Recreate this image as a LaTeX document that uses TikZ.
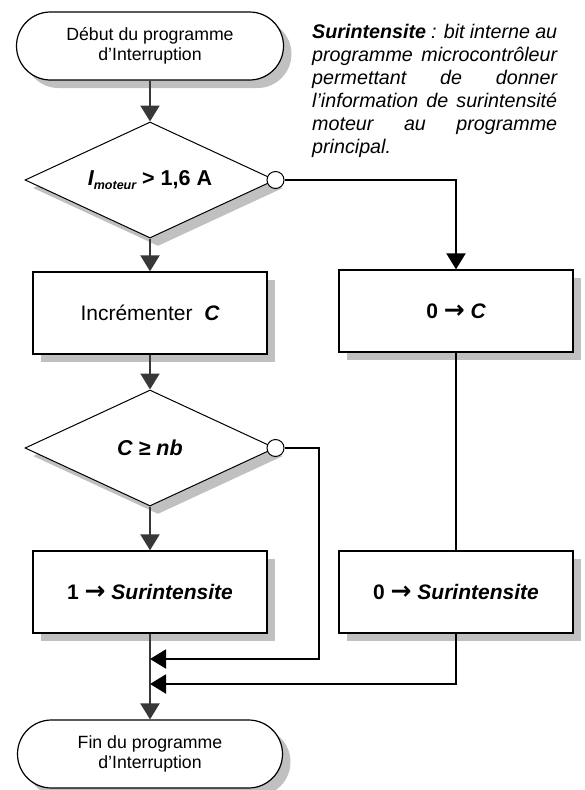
\documentclass[tikz,border=0pt]{standalone}
\usepackage{fontspec}
\setmainfont{Liberation Sans}
\newfontfamily\arrowfont{DejaVu Sans}
\usetikzlibrary{arrows.meta,shapes.geometric,shadows}
\definecolor{shgrey}{HTML}{C0C0C0}
\definecolor{flowgrey}{HTML}{383838}
\newcommand{\toarrow}{{\arrowfont\bfseries\fontsize{25}{24}\selectfont →}}
\tikzset{
  shad/.style={general shadow={shadow xshift=8pt,shadow yshift=-8pt,fill=shgrey}},
  term/.style={shad, draw=black, line width=1.2pt, fill=white, rectangle, rounded corners=34pt,
    minimum width=267pt, minimum height=68pt, inner sep=0pt, align=center,
    font=\fontsize{17.7}{20}\selectfont},
  procbox/.style={shad, draw=black, line width=1.3pt, fill=white, rectangle,
    minimum width=234pt, minimum height=82pt, inner sep=0pt, font=\fontsize{21}{24}\selectfont},
  decis/.style={shad, draw=black, line width=1pt, fill=white, diamond, aspect=2.155,
    minimum width=250pt, minimum height=116pt, inner sep=0pt, font=\fontsize{21.5}{24}\selectfont\bfseries},
  notc/.style={draw=black, line width=1pt, fill=white, circle, minimum size=17pt, inner sep=0pt},
  tip/.style={-{Triangle[length=16pt,width=19pt]}},
  flow/.style={draw=flowgrey, line width=2.2pt, tip},
  wire/.style={draw=black, line width=2pt},
  notestyle/.style={anchor=north west, inner sep=0pt, text width=245pt, align=justify,
    font=\fontsize{19.7}{23}\selectfont\itshape},
}
\begin{document}
\begin{tikzpicture}[x=1pt,y=-1pt]
\useasboundingbox (0,0) rectangle (584,790);
% nodes
\node[term] (start) at (150,46) {Début du programme\\d’Interruption};
\node[decis] (d1) at (150,180) {{\itshape I\raisebox{-4.5pt}{\fontsize{12.5}{13}\selectfont moteur}} > 1,6 A};
\node[procbox] (inc) at (150,313) {Incrémenter~~{\bfseries\itshape C}};
\node[procbox] (zc) at (456,311) {\bfseries 0 \toarrow\ \itshape C};
\node[decis] (d2) at (150,448) {\itshape C ≥ nb};
\node[procbox] (s1) at (150,592) {\bfseries 1 \toarrow\ \itshape Surintensite};
\node[procbox] (s0) at (456,592) {\bfseries 0 \toarrow\ \itshape Surintensite};
\node[term, minimum width=265pt] (end) at (150,754) {Fin du programme\\d’Interruption};
\node[notc] (c1) at (d1.east) {};
\node[notc] (c2) at (d2.east) {};
\node[notestyle] (note) at (312,24) {\textbf{Surintensite} : bit interne au\linebreak
  programme microcontrôleur\linebreak permettant de donner\linebreak
  l’information de surintensité\linebreak moteur au programme\linebreak principal.};
% coordinates
\coordinate (k1) at (319,659);
\coordinate (m1) at (150,659);
\coordinate (m2) at (150,684);
% connectors
\draw[flow] (start.south) -- (d1.north);
\draw[flow] (d1.south) -- (inc.north);
\draw[flow] (inc.south) -- (d2.north);
\draw[flow] (d2.south) -- (s1.north);
\draw[flow] (s1.south) -- (end.north);
\draw[wire, tip] (c1.east) -| (zc.north);
\draw[wire] (zc.south) -- (s0.north);
\draw[wire, tip] (c2.east) -| (k1) -- (m1);
\draw[wire, tip] (s0.south) |- (m2);
\end{tikzpicture}
\end{document}
